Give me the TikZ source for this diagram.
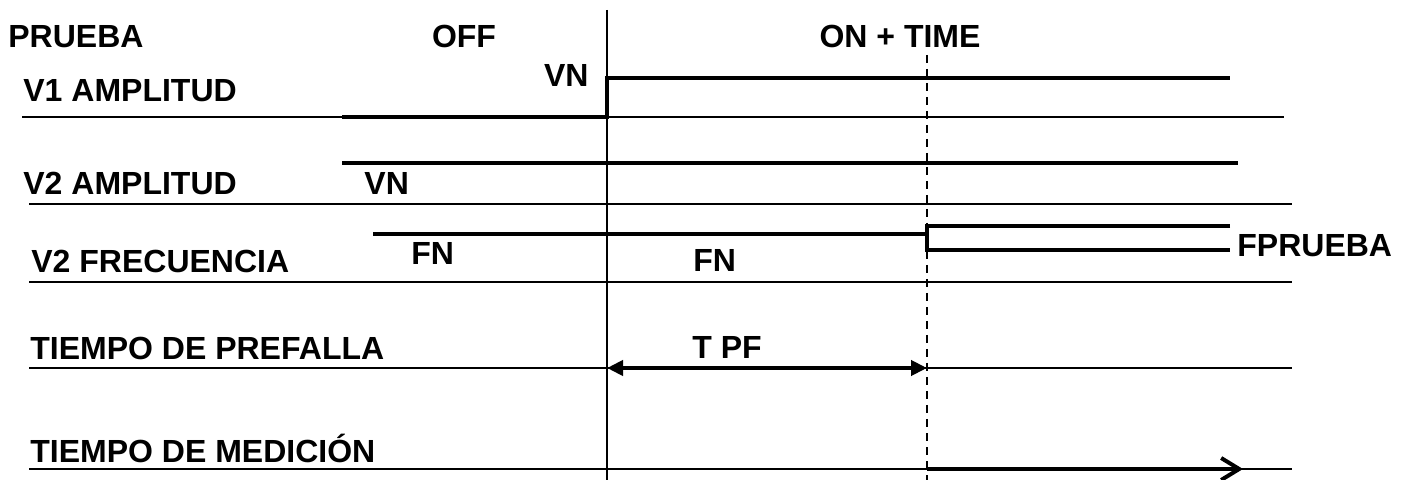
\documentclass[tikz,border=0pt]{standalone}
\usepackage{fontspec}
\setmainfont{Liberation Sans}
\usetikzlibrary{arrows.meta}
\usetikzlibrary{positioning}

\tikzset{
	txt/.style={font=\bfseries\fontsize{16}{19}\selectfont,inner sep=0pt},
	baseline/.style={line width=1pt},
	signal/.style={line width=2pt},
	marker/.style={line width=1pt},
}

\begin{document}
\begin{tikzpicture}[x=0.5pt,y=-0.5pt]
		\useasboundingbox (0,0) rectangle (1407,480);

		% instants
		\coordinate (off) at (607,10);
		\coordinate (offend) at (607,480);
		\coordinate (ton) at (927,55);
		\coordinate (tonend) at (927,480);
		\draw [marker] (off) -- (offend);
		\draw [marker,dash pattern=on 4pt off 3pt] (ton) -- (tonend);

		% base lines of the rows
		\foreach \row/\y/\xa/\xb in {vone/117/22/1284,vtwo/204/29/1292,freq/282/29/1292,pref/368/29/1292,med/469/29/1292} {
			\coordinate (\row west) at (\xa,\y);
			\coordinate (\row east) at (\xb,\y);
			\draw [baseline] (\row west) -- (\row east);
		}

		% V1 amplitud
		\coordinate (v1a) at (342,117);
		\coordinate (v1b) at (607,117);
		\coordinate (v1c) at (607,78);
		\coordinate (v1d) at (1230,78);
		\draw [signal] (v1a) -- (v1b) -- (v1c) -- (v1d);

		% V2 amplitud
		\coordinate (v2a) at (342,163);
		\coordinate (v2b) at (1238,163);
		\draw [signal] (v2a) -- (v2b);

		% V2 frecuencia
		\coordinate (f2a) at (373,234);
		\coordinate (f2b) at (927,234);
		\coordinate (f2up) at (927,226);
		\coordinate (f2dn) at (927,250);
		\coordinate (f2upend) at (1230,226);
		\coordinate (f2dnend) at (1230,250);
		\draw [signal] (f2a) -- (f2b);
		\draw [signal] (f2upend) -- (f2up) -- (f2dn) -- (f2dnend);

		% tiempos
		\coordinate (tpfa) at (607,368);
		\coordinate (tpfb) at (927,368);
		\draw [signal,{Triangle[length=8pt,width=7.5pt]}-{Triangle[length=8pt,width=7.5pt]}] (tpfa) -- (tpfb);
		\coordinate (tma) at (927,469);
		\coordinate (tmb) at (1243,469);
		\draw [signal,-{Straight Barb[length=9pt,width=11pt,line width=2pt]}] (tma) -- (tmb);

		% texts
		\node [txt,anchor=base west] (prueba) at (8,48) {PRUEBA};
		\node [txt,anchor=base] (offtxt) at (464,48) {OFF};
		\node [txt,anchor=base] (ontxt) at (900,48) {ON + TIME};
		\node [txt,anchor=base west] (v1txt) at (23,102) {V1 AMPLITUD};
		\node [txt,anchor=base east] (vn1) at (589,87) {VN};
		\node [txt,anchor=base west] (v2txt) at (23,195) {V2 AMPLITUD};
		\node [txt,anchor=base west] (vn2) at (364,195) {VN};
		\node [txt,anchor=base west] (f2txt) at (31,273) {V2 FRECUENCIA};
		\node [txt,anchor=base west] (fn1) at (411,265) {FN};
		\node [txt,anchor=base west] (fn2) at (693,272) {FN};
		\node [txt,anchor=base west] (fprueba) at (1237,257) {FPRUEBA};
		\node [txt,anchor=base west] (preftxt) at (30,360) {TIEMPO DE PREFALLA};
		\node [txt,anchor=base] (tpf) at (727,358) {T PF};
		\node [txt,anchor=base west] (medtxt) at (30,462) {TIEMPO DE MEDICIÓN};
	\end{tikzpicture}
\end{document}
